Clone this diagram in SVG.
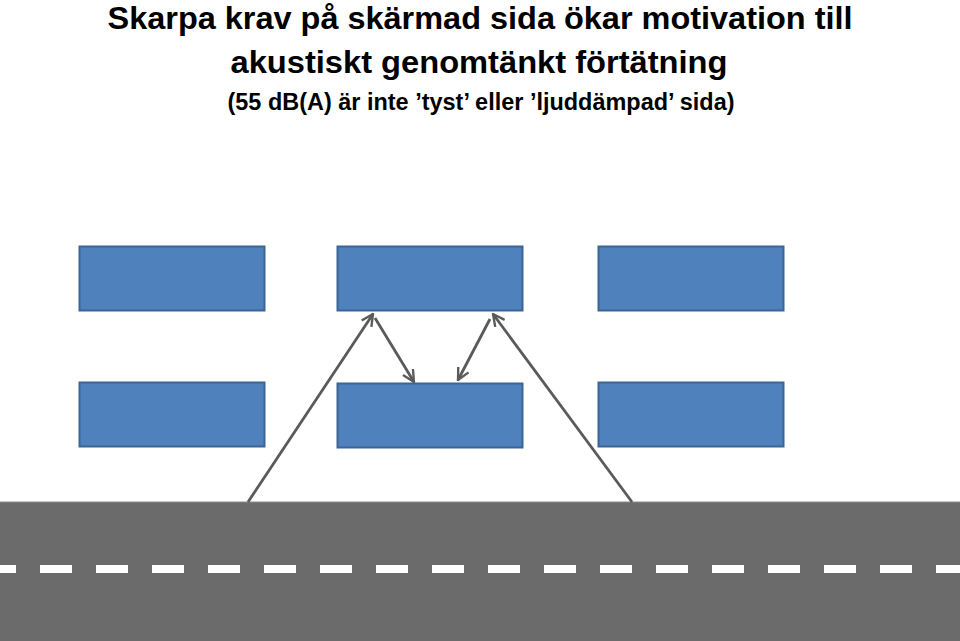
<svg xmlns="http://www.w3.org/2000/svg" width="960" height="641" viewBox="0 0 960 641">
<style>
.t{font-family:"Liberation Sans",Arial,sans-serif;font-weight:bold;fill:#000;text-anchor:middle}
.box{fill:#4f81bd;stroke:#3a6595;stroke-width:2}
.c{stroke:#5a5a5a;stroke-width:2.8;fill:none}
</style>
<defs>
<marker id="ah" viewBox="0 0 12 12" refX="11" refY="6" markerWidth="5" markerHeight="5" markerUnits="strokeWidth" orient="auto">
<polyline points="1,1 11,6 1,11" fill="none" stroke="#5a5a5a" stroke-width="2"/>
</marker>
</defs>
<rect width="960" height="641" fill="#fff"/>
<text class="t" x="480" y="29" font-size="32" textLength="745" lengthAdjust="spacingAndGlyphs">Skarpa krav på skärmad sida ökar motivation till</text>
<text class="t" x="479" y="73" font-size="32" textLength="497" lengthAdjust="spacingAndGlyphs">akustiskt genomtänkt förtätning</text>
<text class="t" x="481" y="110" font-size="23" textLength="507" lengthAdjust="spacingAndGlyphs">(55 dB(A) är inte ’tyst’ eller ’ljuddämpad’ sida)</text>
<g id="road">
<rect x="-2" y="502" width="964" height="141" fill="#6b6b6b" stroke="#8c8c8c" stroke-width="1"/>
<line x1="-16" y1="569" x2="960" y2="569" stroke="#fff" stroke-width="8" stroke-dasharray="32 24"/>
</g>
<g id="b1"><rect class="box" x="79.5" y="246.5" width="185" height="64"/></g>
<g id="b2"><rect class="box" x="337.5" y="246.5" width="185" height="64"/></g>
<g id="b3"><rect class="box" x="598.5" y="246.5" width="185" height="64"/></g>
<g id="b4"><rect class="box" x="79.5" y="382.5" width="185" height="64"/></g>
<g id="b5"><rect class="box" x="337.5" y="383.5" width="185" height="64"/></g>
<g id="b6"><rect class="box" x="598.5" y="382.5" width="185" height="64"/></g>
<g id="connectors">
<line class="c" x1="248" y1="502" x2="373" y2="314" marker-end="url(#ah)"/>
<line class="c" x1="632" y1="502" x2="493" y2="314" marker-end="url(#ah)"/>
<line class="c" x1="375" y1="318" x2="414" y2="382" marker-end="url(#ah)"/>
<line class="c" x1="490" y1="319" x2="458" y2="380" marker-end="url(#ah)"/>
</g>
</svg>
